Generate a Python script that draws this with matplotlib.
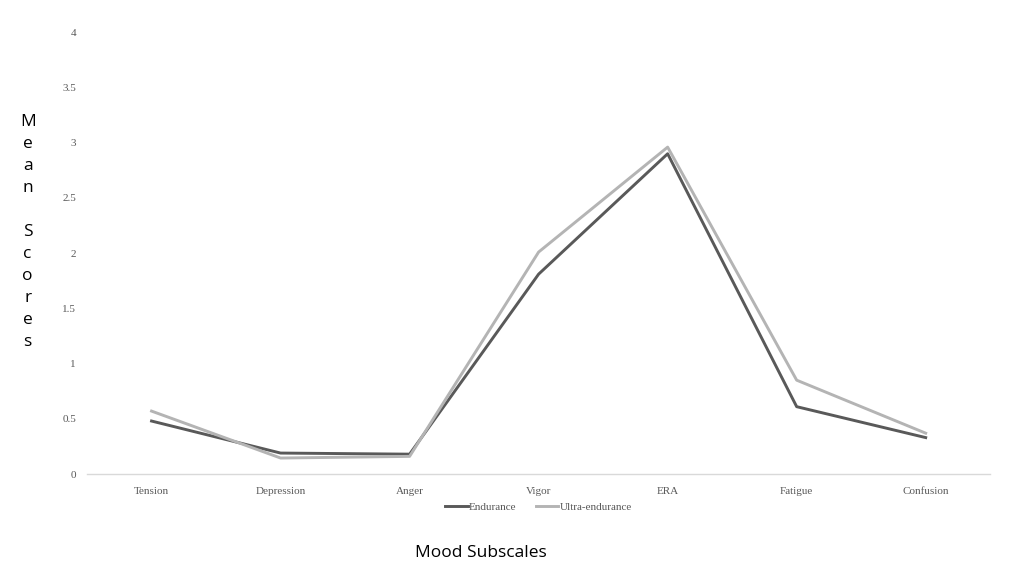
import matplotlib

matplotlib.use("Agg")

import matplotlib.pyplot as plt
import numpy as np

categories = ["Tension", "Depression", "Anger", "Vigor", "ERA", "Fatigue", "Confusion"]
endurance = [0.48, 0.19, 0.18, 1.81, 2.90, 0.61, 0.33]
ultra_endurance = [0.57, 0.145, 0.16, 2.01, 2.96, 0.85, 0.37]
y_ticks = [0, 0.5, 1, 1.5, 2, 2.5, 3, 3.5, 4]

fig = plt.figure(figsize=(10.24, 5.76), dpi=100)
ax = fig.add_axes([0.085, 0.177, 0.882, 0.767])

x = np.arange(len(categories))
ax.plot(x, endurance, color="#595959", linewidth=2.1, label="Endurance")
ax.plot(x, ultra_endurance, color="#b4b4b4", linewidth=2.1, label="Ultra-endurance")

ax.set_xlim(-0.5, len(categories) - 0.5)
ax.set_ylim(0, 4)
ax.set_yticks(y_ticks, labels=[f"{v:g}" for v in y_ticks])
ax.set_xticks(x, labels=categories)
for label in ax.get_xticklabels() + ax.get_yticklabels():
    label.set_family("Liberation Serif")
    label.set_fontsize(8)
    label.set_color("#595959")
ax.tick_params(length=0, pad=9)
ax.tick_params(axis="y", pad=8)

for side in ["top", "right", "left"]:
    ax.spines[side].set_visible(False)
ax.spines["bottom"].set_color("#d9d9d9")
ax.spines["bottom"].set_linewidth(1.0)

legend = ax.legend(
    loc="center",
    bbox_to_anchor=(0.5, -0.075),
    ncol=2,
    frameon=False,
    prop={"family": "Liberation Serif", "size": 8},
    handlelength=2.0,
    handletextpad=0.1,
    columnspacing=1.8,
)
for text in legend.get_texts():
    text.set_color("#595959")

fig.text(
    0.027, 0.597, "\n".join("Mean Scores"),
    ha="center", va="center", family="Open Sans", fontsize=12.5,
    linespacing=1.5,
)
fig.text(0.47, 0.04, "Mood Subscales", ha="center", va="center",
         family="Open Sans", fontsize=12.5)

fig.savefig("out.png", dpi=100)
